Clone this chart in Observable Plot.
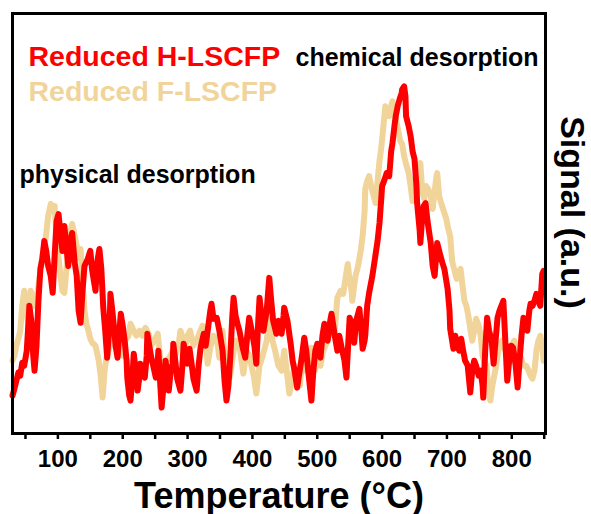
<!DOCTYPE html>
<html>
<head>
<meta charset="utf-8">
<script src="https://cdn.jsdelivr.net/npm/d3@7"></script>
<script src="https://cdn.jsdelivr.net/npm/@observablehq/plot@0.6"></script>
<style>
  html, body { margin: 0; padding: 0; background: #ffffff; }
</style>
</head>
<body>
<div id="chart"></div>
<script>
// Reduced H-LSCFP (red) : temperature (°C) and signal (a.u.)
const hTemp = [30,33,36,39,42,45,48,52,55,56,59,62,64,67,70,73,76,79,82,85,89,92,95,98,101,104,107,110,113,116,119,122,126,129,132,135,138,141,146,150,153,158,161,164,167,170,173,176,180,181,184,186,189,192,195,197,200,203,206,207,210,212,215,217,220,223,226,227,230,234,237,238,241,244,247,251,254,255,258,260,263,266,269,271,274,277,278,281,284,289,292,294,297,300,303,306,309,314,317,320,325,328,331,335,337,340,345,349,354,357,360,363,366,369,371,374,377,380,385,389,392,395,399,403,406,409,411,414,417,422,425,426,429,432,437,440,445,448,449,454,459,462,465,469,473,476,480,483,486,491,494,497,500,505,508,511,516,520,522,527,531,534,537,542,545,548,550,553,554,557,560,565,568,570,573,574,577,580,585,588,593,596,599,600,604,607,611,614,616,619,621,624,627,630,631,634,636,637,641,644,647,650,653,654,658,659,662,664,667,670,675,678,681,684,685,690,693,696,701,704,705,708,710,713,716,719,722,725,728,732,735,736,739,742,745,749,752,755,756,759,762,765,769,772,775,778,781,784,787,790,793,796,799,802,806,809,812,815,818,821,824,827,829,832,835,838,841,844,847,849];
const hSignal = [38,45,53,61,58,71,68,83,115,128,113,78,63,88,133,165,175,193,183,168,158,141,178,213,220,201,183,208,188,168,193,201,171,158,123,111,143,168,175,183,163,143,173,185,165,126,103,76,113,140,123,110,88,76,103,120,108,93,73,56,38,33,58,80,63,43,58,70,63,56,78,100,88,76,68,56,73,83,48,26,48,73,58,43,63,70,90,73,55,43,68,90,78,70,85,71,55,43,68,86,100,88,103,123,130,115,116,103,83,53,33,48,78,118,136,118,110,103,86,76,98,116,103,88,70,113,136,118,103,123,148,156,133,113,100,113,100,118,126,113,90,73,63,46,63,76,96,83,63,33,63,83,90,76,98,110,93,113,120,98,83,98,88,73,56,93,116,111,105,91,113,125,103,85,93,98,128,141,158,171,193,211,238,248,255,261,258,283,291,308,318,328,335,341,345,348,338,318,308,298,283,275,248,231,203,191,218,228,231,213,191,168,158,183,191,178,171,165,145,123,105,93,85,98,88,83,95,83,73,68,48,41,63,73,68,58,63,48,36,83,116,103,93,70,93,116,123,128,133,93,53,73,88,86,68,46,73,98,116,108,103,123,130,128,133,140,133,128,160,163];

// Reduced F-LSCFP (tan) : temperature (°C) and signal (a.u.)
const fTemp = [30,33,36,39,42,45,48,52,55,58,61,64,67,70,73,76,79,82,85,89,92,95,98,101,104,107,110,113,116,119,122,126,129,132,135,138,141,144,147,150,153,158,163,166,169,172,175,178,181,186,190,195,200,204,209,212,217,221,226,230,235,240,244,249,254,258,263,267,272,277,281,286,289,294,297,300,304,309,314,318,323,328,331,335,340,345,349,354,358,365,371,375,380,386,391,395,402,406,411,415,422,426,431,435,440,445,449,452,457,462,465,469,473,477,482,486,491,496,500,505,509,516,520,522,527,531,536,540,543,547,550,553,554,559,563,567,570,573,574,577,580,583,587,590,593,596,599,602,605,608,611,614,616,619,622,625,628,631,634,637,641,644,647,650,653,656,659,662,665,668,671,675,678,681,684,685,688,691,695,699,702,705,708,711,715,718,721,724,727,730,733,736,739,742,745,749,752,755,758,761,764,767,770,773,776,779,782,785,790,795,799,804,809,813,818,822,826,829,832,835,838,841,844,847,849];
const fSignal = [73,78,88,95,103,128,143,123,103,143,138,128,133,148,163,178,188,200,218,230,228,228,193,176,158,143,141,163,188,201,210,198,188,176,185,153,123,110,103,95,91,88,73,58,36,63,76,83,93,88,95,88,78,93,98,110,103,98,103,98,106,100,88,93,100,73,68,73,76,83,78,88,103,93,88,98,103,88,93,100,108,93,70,86,98,96,76,103,68,56,83,93,88,60,83,78,58,40,68,76,93,116,93,83,68,63,83,68,40,58,68,53,48,73,63,68,86,63,73,68,83,93,103,116,103,136,143,140,153,170,153,143,133,158,168,183,198,223,245,253,258,248,238,231,253,273,288,308,328,323,318,328,333,323,313,303,293,290,278,270,261,248,233,248,263,265,271,243,235,248,245,238,225,243,258,261,238,231,223,215,205,198,173,165,155,161,165,148,133,128,118,105,93,103,115,108,98,78,71,68,43,33,48,58,68,83,88,93,83,73,88,93,83,78,68,68,63,58,55,63,83,93,98,88,73];

const seriesNames = ["Reduced H-LSCFP", "Reduced F-LSCFP"];
const seriesColors = ["#ff0000", "#f1d49a"];
const annotations = ["chemical desorption", "physical desorption"];
const xLabel = "Temperature (°C)";
const yLabel = "Signal (a.u.)";
const xTicks = [100, 200, 300, 400, 500, 600, 700, 800];
const xMinorTicks = [50, 150, 250, 350, 450, 550, 650, 750, 850];

const hData = hTemp.map((t, i) => ({t, s: hSignal[i]}));
const fData = fTemp.map((t, i) => ({t, s: fSignal[i]}));

const font = "'Liberation Sans', Arial, Helvetica, sans-serif";

const chart = Plot.plot({
  width: 591,
  height: 514,
  marginLeft: 12,
  marginRight: 46,
  marginTop: 13,
  marginBottom: 81,
  style: {fontFamily: font, fontWeight: "bold", background: "#ffffff", color: "#000000"},
  x: {domain: [30, 852]},
  y: {domain: [0, 421], axis: null},
  marks: [
    Plot.line(fData, {x: "t", y: "s", stroke: seriesColors[1], strokeWidth: 6, strokeLinejoin: "round", strokeLinecap: "round"}),
    Plot.line(hData, {x: "t", y: "s", stroke: seriesColors[0], strokeWidth: 6, strokeLinejoin: "round", strokeLinecap: "round"}),
    Plot.frame({stroke: "#000000", strokeWidth: 3}),
    Plot.axisX({ticks: xMinorTicks, tickSize: 6, strokeWidth: 2.5, tickFormat: () => "", label: null}),
    Plot.axisX({ticks: xTicks, tickSize: 6, tickPadding: 10, strokeWidth: 2.5, fontSize: 24, fontWeight: "bold", label: null, fill: "#000000"}),
    Plot.text([xLabel], {frameAnchor: "bottom", dy: 74, lineAnchor: "bottom", fontSize: 36, fontWeight: "bold", fill: "#000000"}),
    Plot.text([yLabel], {frameAnchor: "right", dx: 15, dy: -11, rotate: 90, textAnchor: "middle", lineAnchor: "bottom", fontSize: 34, fontWeight: "bold", fill: "#000000"}),
    Plot.text([seriesNames[0]], {frameAnchor: "top-left", dx: 16, dy: 52, textAnchor: "start", lineAnchor: "bottom", fontSize: 28.5, fontWeight: "bold", fill: seriesColors[0]}),
    Plot.text([seriesNames[1]], {frameAnchor: "top-left", dx: 16, dy: 87, textAnchor: "start", lineAnchor: "bottom", fontSize: 28.5, fontWeight: "bold", fill: seriesColors[1]}),
    Plot.text([annotations[0]], {frameAnchor: "top-left", dx: 283, dy: 52, textAnchor: "start", lineAnchor: "bottom", fontSize: 25, fontWeight: "bold", fill: "#000000"}),
    Plot.text([annotations[1]], {frameAnchor: "top-left", dx: 7, dy: 169, textAnchor: "start", lineAnchor: "bottom", fontSize: 25, fontWeight: "bold", fill: "#000000"})
  ]
});

document.getElementById("chart").appendChild(chart);
</script>
</body>
</html>
